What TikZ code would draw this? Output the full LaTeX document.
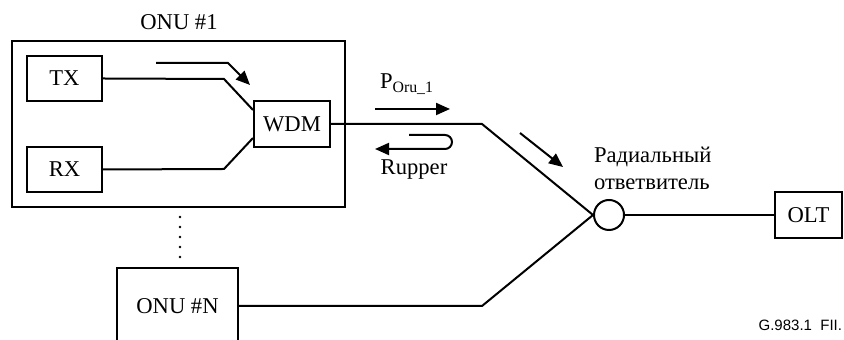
\documentclass[tikz,border=0pt]{standalone}
\usepackage{fontspec}
\setmainfont{Liberation Serif}
\newfontfamily\labelfont{Liberation Sans}
\usetikzlibrary{arrows.meta,positioning}

\begin{document}
\begin{tikzpicture}[x=0.5pt, y=-0.5pt, >={Triangle[length=7pt,width=6pt]},
    line width=1pt,
    box/.style={draw, inner sep=0pt, font=\fontsize{11.3}{13.5}\selectfont},
    txt/.style={inner sep=0pt, font=\fontsize{11.3}{13.5}\selectfont}]
  \useasboundingbox (0,0) rectangle (844,340);
  \node[box, minimum width=166.5pt, minimum height=83pt] (onu1) at (178.5,124) {};
  \node[txt] (onu1lbl) at (179,22) {ONU \#1};
  \node[box, minimum width=37.5pt, minimum height=22.5pt] (tx) at (64.5,78.5) {TX};
  \node[box, minimum width=37.5pt, minimum height=22.5pt] (rx) at (64.5,169.5) {RX};
  \node[box, minimum width=38pt, minimum height=23pt] (wdm) at (292,124) {WDM};
  \node[box, minimum width=60.5pt, minimum height=38pt] (onuN) at (177.5,306) {ONU \#N};
  \node[draw, circle, inner sep=0pt, minimum size=15pt] (cpl) at (609,215) {};
  \node[box, minimum width=33.5pt, minimum height=23pt] (olt) at (808.5,215) {OLT};
  \draw (tx.east) -- (224,79) -- ([yshift=7pt]wdm.west);
  \draw (rx.east) -- (224,169) -- ([yshift=-7pt]wdm.west);
  \draw (wdm.east) -- (482,124) -- (cpl.west);
  \draw (onuN.east) -- (482,306) -- (cpl.west);
  \draw (cpl.east) -- (olt.west);
  \foreach \y in {217,227,...,257}
    \fill (180,\y) circle (0.7pt);
  % направления потоков
  \draw[->] (156,63) -- (228,63) -- (250,85);
  \draw[->] (375,109) -- (450,109);
  \draw[->] (409,135) -- (445,135) arc[start angle=90, end angle=-90, radius=3.5pt] -- (375,149);
  \draw[->] (520,133) -- (563,167);
  \node[txt] (plbl) at (407,84) {P\textsubscript{Oru\_1}};
  \node[txt] (rlbl) at (414,170) {Rupper};
  \node[txt, anchor=west, align=left] (cpllbl) at (593,168) {Радиальный\\ответвитель};
  \node[anchor=east, inner sep=0pt, font=\labelfont\fontsize{7.5}{8}\selectfont] (fig) at (843,325) {G.983.1\ \ FII.};
\end{tikzpicture}
\end{document}
